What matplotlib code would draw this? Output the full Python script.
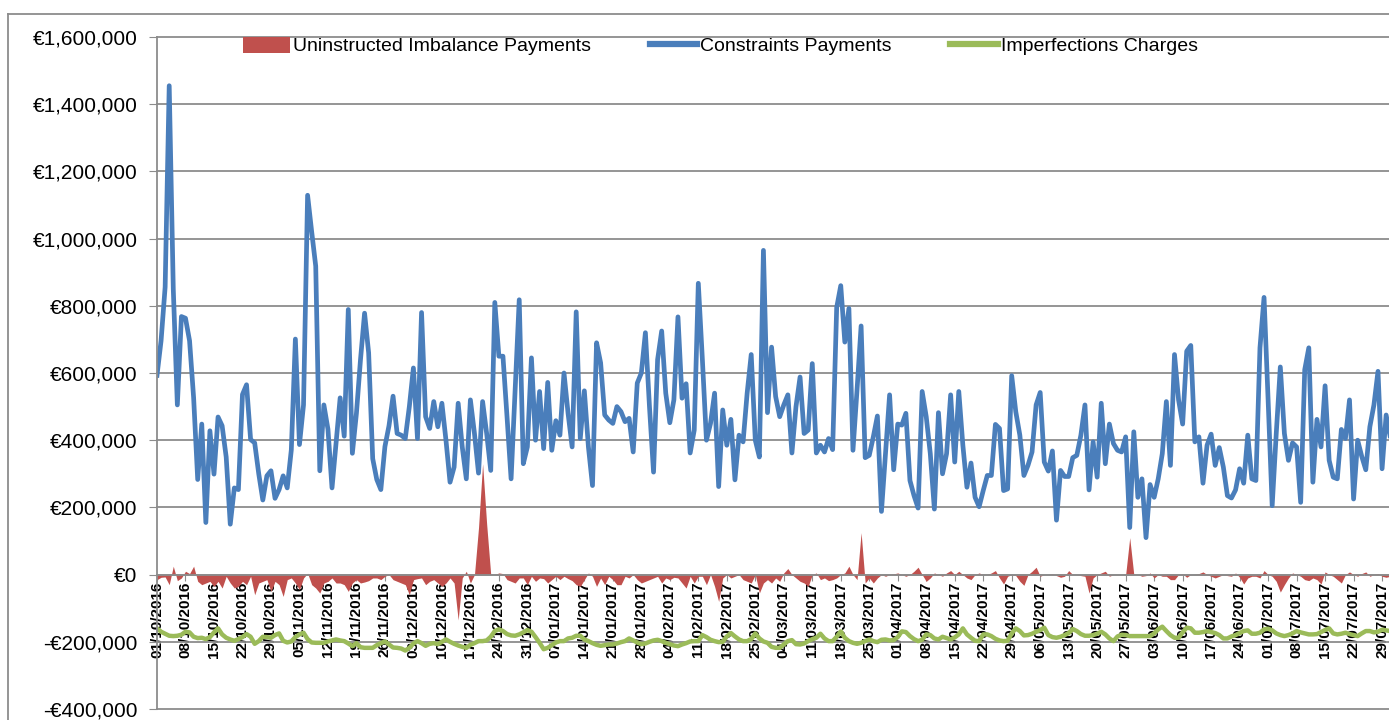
import matplotlib
matplotlib.use("Agg")
import matplotlib.pyplot as plt
from matplotlib.lines import Line2D
from matplotlib.patches import Patch
from matplotlib.ticker import FuncFormatter
import numpy as np
import pandas as pd

start_date = "2016-10-01"

# Constraints Payments (thousand EUR), daily from 01/10/2016
constraints_k = [
    593, 696, 856, 1455, 850, 505, 768, 763, 696, 526,
    283, 448, 155, 428, 299, 469, 443, 350, 150, 258,
    253, 536, 565, 402, 392, 300, 222, 294, 309, 227,
    253, 294, 258, 371, 701, 387, 505, 1129, 1021, 918,
    309, 505, 433, 258, 392, 526, 412, 789, 361, 480,
    640, 778, 660, 345, 283, 253, 381, 443, 531, 420,
    415, 405, 500, 615, 405, 780, 470, 435, 515, 440,
    510, 400, 275, 320, 510, 380, 285, 520, 420, 302,
    515, 420, 310, 810, 650, 650, 470, 285, 550, 818,
    330, 380, 645, 400, 545, 375, 572, 370, 458, 415,
    600, 480, 380, 782, 405, 547, 380, 265, 690, 630,
    475, 460, 450, 500, 485, 455, 465, 365, 570, 600,
    720, 500, 305, 640, 725, 540, 452, 520, 767, 525,
    568, 362, 430, 867, 640, 400, 450, 540, 262, 490,
    385, 462, 282, 415, 395, 540, 655, 400, 350, 965,
    482, 677, 530, 470, 505, 535, 362, 500, 588, 420,
    430, 628, 362, 385, 365, 405, 372, 795, 860, 692,
    792, 370, 550, 740, 348, 355, 410, 472, 188, 360,
    535, 312, 448, 445, 480, 280, 235, 198, 545, 470,
    360, 195, 482, 300, 360, 535, 335, 545, 385, 260,
    332, 230, 202, 250, 295, 295, 447, 435, 250, 255,
    592, 485, 415, 295, 325, 365, 505, 542, 335, 308,
    368, 162, 310, 292, 292, 348, 355, 415, 505, 252,
    395, 290, 510, 330, 448, 390, 370, 365, 410, 140,
    425, 230, 285, 110, 268, 230, 285, 360, 515, 325,
    655, 520, 448, 665, 682, 395, 410, 272, 385, 418,
    325, 378, 320, 235, 228, 252, 315, 272, 415, 285,
    280, 675, 825, 520, 205, 420, 618, 420, 340, 392,
    380, 215, 610, 675, 275, 462, 380, 562, 340, 290,
    285, 432, 405, 520, 225, 400, 352, 312, 440, 505,
    605, 315, 475, 410,
]

# Uninstructed Imbalance Payments (thousand EUR)
imbalance_k = [
    -15, -8, -7, -30, 25, -18, -10, 10, 3, 25,
    -20, -30, -25, -20, -35, -20, -40, -5, -25, -40,
    -35, -20, -30, -5, -60, -25, -20, -15, -50, -20,
    -30, -65, -15, -10, -25, -45, -10, 4, -30, -40,
    -55, -25, -20, -10, -25, -25, -30, -50, -25, -15,
    -25, -22, -18, -10, -10, -15, -5, 0, -15, -20,
    -25, -30, -60, -15, -12, -10, -30, -20, -15, -25,
    -35, -25, -10, -25, -135, -10, 10, -25, 0, 140,
    330, 150, 0, 0, 5, 3, -15, -20, -25, -10,
    -10, -30, -5, -20, -10, -12, -25, -15, -5, -15,
    -5, -12, -18, -30, -35, -15, 5, -5, -35, -10,
    -30, -5, -15, -30, -30, -5, -10, 0, -15, -25,
    -20, -15, -10, -5, -25, -10, -15, -8, -10, -25,
    -40, -5, -25, -5, -5, -30, 0, -35, -80, -10,
    0, -10, -5, 0, -15, -20, -25, 0, -55, -25,
    -15, -25, -10, -20, 5, 18, 0, -10, -20, -25,
    -35, 0, 5, -15, -10, -18, -15, -10, 0, 5,
    25, 0, -15, 125, -25, -10, -25, -10, 0, -5,
    0, 2, 5, 0, -5, 0, 10, 22, 0, -20,
    -10, 5, 0, -5, 5, 12, 0, 10, 0, -10,
    -15, 0, 5, 0, 0, 5, 12, -10, -28, -5,
    0, -3, -20, -32, 0, 10, 22, -5, 0, 0,
    2, -3, -8, -5, 12, 0, 0, -3, -5, -55,
    -10, 0, 5, 10, -5, 0, 0, 0, 0, 110,
    0, 0, -5, -3, 5, -10, 0, -5, -5, -15,
    -15, 0, 2, -8, 0, 0, 3, 8, 0, -5,
    -10, -5, 0, -3, -5, 5, -8, -28, -10, -5,
    -5, -10, 12, 0, -5, -20, -52, -30, -10, 5,
    0, -5, -15, -18, -10, -15, -28, 8, 0, -5,
    -15, -25, 0, 8, 0, -5, 3, 8, -5, 0,
    3, -5, -8, -5,
]

# Imperfections Charges (thousand EUR)
imperfections_k = [
    -160, -170, -176, -182, -183, -182, -179, -170, -172, -185,
    -189, -188, -192, -186, -172, -160, -178, -188, -193, -197,
    -192, -186, -177, -185, -206, -198, -185, -186, -188, -180,
    -175, -197, -202, -199, -186, -178, -173, -192, -202, -203,
    -203, -203, -199, -196, -193, -196, -198, -205, -213, -204,
    -216, -218, -218, -218, -210, -204, -199, -208, -217, -218,
    -220, -226, -218, -205, -198, -204, -212, -206, -204, -207,
    -200, -193, -200, -206, -211, -215, -218, -209, -204, -198,
    -198, -196, -185, -168, -163, -168, -177, -181, -182, -178,
    -172, -165, -170, -186, -203, -222, -218, -210, -202, -198,
    -198, -190, -188, -182, -182, -193, -198, -204, -209, -212,
    -210, -208, -208, -205, -201, -198, -190, -196, -202, -207,
    -205, -200, -196, -194, -198, -203, -207, -211, -213, -208,
    -204, -199, -198, -198, -180, -186, -194, -198, -201, -200,
    -184, -174, -184, -193, -198, -198, -192, -175, -190, -199,
    -203, -215, -218, -218, -208, -198, -195, -207, -208, -205,
    -198, -192, -188, -176, -190, -198, -198, -185, -169, -188,
    -198, -203, -206, -203, -198, -193, -198, -201, -194, -193,
    -196, -195, -186, -169, -171, -183, -192, -198, -194, -178,
    -180, -190, -193, -185, -189, -193, -187, -178, -160, -178,
    -188, -197, -198, -178, -178, -183, -191, -196, -198, -197,
    -175, -160, -168, -181, -180, -176, -170, -165, -158, -180,
    -186, -188, -185, -180, -174, -162, -168, -177, -182, -182,
    -180, -176, -170, -178, -190, -198, -184, -179, -180, -183,
    -183, -183, -183, -183, -183, -175, -163, -155, -168, -180,
    -188, -188, -172, -158, -160, -173, -173, -171, -168, -171,
    -174, -180, -190, -190, -184, -180, -174, -168, -166, -176,
    -176, -173, -163, -161, -166, -175, -180, -183, -180, -175,
    -168, -172, -175, -178, -178, -177, -171, -165, -160, -175,
    -178, -176, -173, -177, -180, -183, -175, -168, -168, -172,
    -170, -164, -166, -168,
]

series_names = ["Uninstructed Imbalance Payments", "Constraints Payments", "Imperfections Charges"]
y_ticks = [-400000, -200000, 0, 200000, 400000, 600000, 800000, 1000000, 1200000, 1400000, 1600000]

n = len(constraints_k)
dates = pd.date_range(start_date, periods=n, freq="D")
x = np.arange(n)
blue = np.array(constraints_k) * 1000
red = np.array(imbalance_k) * 1000
green = np.array(imperfections_k) * 1000

tick_pos = list(range(0, n, 7))
tick_labels = [dates[i].strftime("%d/%m/%Y") for i in tick_pos]

W, H = 1389, 720
fig = plt.figure(figsize=(W / 100, H / 100), dpi=100)
fig.patch.set_facecolor("white")

left_px, right_px, top_px, bottom_px = 157, 1389, 37, 709
ax = fig.add_axes([left_px / W, 1 - bottom_px / H, (right_px - left_px) / W, (bottom_px - top_px) / H])

c_red = "#C0504D"
c_blue = "#4A7EBB"
c_green = "#9BBB59"
c_grid = "#8C8C8C"

# spines first (moving a spine resets tick label properties)
for s in ["top", "right"]:
    ax.spines[s].set_visible(False)
ax.spines["bottom"].set_position(("data", 0))
ax.spines["bottom"].set_color(c_grid)
ax.spines["bottom"].set_linewidth(1.3)
ax.spines["left"].set_color(c_grid)
ax.spines["left"].set_linewidth(1.3)

ax.fill_between(x, 0, red, color=c_red, linewidth=0, zorder=1)
ax.plot(x, blue, color=c_blue, lw=3.4, solid_joinstyle="round", zorder=2.2)
ax.plot(x, green, color=c_green, lw=3.2, solid_joinstyle="round", zorder=2.1)

ax.set_xlim(0, (right_px - left_px) / 4.07)
ax.set_ylim(-400000, 1600000)
ax.set_yticks(y_ticks)
ax.yaxis.set_major_formatter(FuncFormatter(lambda v, _: ("-" if v < 0 else "") + "€{:,.0f}".format(abs(v))))
ax.yaxis.grid(True, color=c_grid, lw=1.3)
ax.set_axisbelow(True)

ax.set_xticks(tick_pos)
ax.set_xticklabels(tick_labels)
ax.tick_params(axis="x", direction="out", length=4, color=c_grid, pad=1, labelrotation=90)
ax.tick_params(axis="y", direction="out", length=6, color=c_grid, pad=8, labelsize=15)
for t in ax.get_xticklabels():
    t.set_fontsize(11)
    t.set_fontweight("bold")
    t.set_family("Liberation Sans")
    t.set_ha("center")
    t.set_va("top")
for t in ax.get_yticklabels():
    t.set_family("Liberation Sans")

for gl in ax.get_ygridlines():
    gl.set_clip_on(False)

handles = [
    Patch(facecolor=c_red, edgecolor="none"),
    Line2D([0], [0], color=c_blue, lw=4.5),
    Line2D([0], [0], color=c_green, lw=4.5),
]
ax.legend(handles, series_names, loc="center left",
          bbox_to_anchor=((233 - left_px) / (right_px - left_px), (bottom_px - 46) / (bottom_px - top_px)),
          ncol=3, frameon=False, borderpad=0, handlelength=2.45, handleheight=0.9,
          handletextpad=0.15, columnspacing=3.0,
          prop={"family": "Liberation Sans", "size": 14})

# outer chart frame
fig.add_artist(Line2D([8 / W, 8 / W], [0, 1 - 14 / H], transform=fig.transFigure, color="#8C8C8C", lw=1.3))
fig.add_artist(Line2D([8 / W, 1], [1 - 14 / H, 1 - 14 / H], transform=fig.transFigure, color="#8C8C8C", lw=1.3))

fig.savefig("out.png", dpi=100)
